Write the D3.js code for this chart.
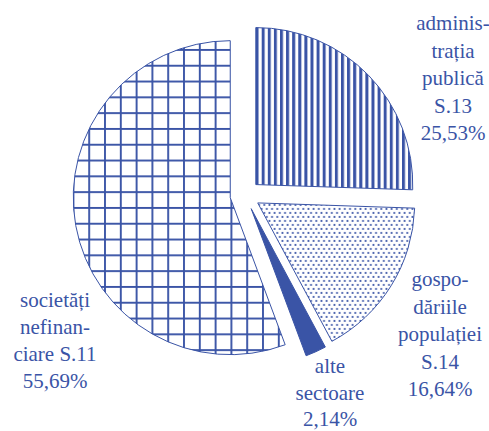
<!DOCTYPE html>
<html><head><meta charset="utf-8">
<script src="https://cdn.jsdelivr.net/npm/d3@7"></script>
<style>body{margin:0;background:#fff}svg{display:block}
text{font-family:"Liberation Serif","Times New Roman","DejaVu Serif",serif;}</style>
</head><body>
<svg id="c" width="489" height="431"></svg>
<script>
const categories = ["administrația publică S.13", "gospodăriile populației S.14", "alte sectoare", "societăți nefinanciare S.11"];
const values = [25.53, 16.64, 2.14, 55.69];
const labelLines = [
  ["adminis-", "trația", "publică", "S.13"],
  ["gospo-", "dăriile", "populației", "S.14"],
  ["alte", "sectoare"],
  ["societăți", "nefinan-", "ciare S.11"]
];
const fills = ["url(#stripes)", "url(#dots)", "#3a54a6", "url(#grid)"];

const blue = "#3a54a6";
const svg = d3.select("#c");
const defs = svg.append("defs");

// vertical stripes
const ps = defs.append("pattern").attr("id","stripes").attr("patternUnits","userSpaceOnUse")
  .attr("width",6.1).attr("height",10).attr("x",256);
ps.append("rect").attr("x",0).attr("y",0).attr("width",3).attr("height",10).attr("fill",blue);

// grid
const pg = defs.append("pattern").attr("id","grid").attr("patternUnits","userSpaceOnUse")
  .attr("width",15.8).attr("height",15.8).attr("x",79.2).attr("y",72.5);
pg.append("rect").attr("x",0).attr("y",0).attr("width",1.9).attr("height",15.8).attr("fill",blue);
pg.append("rect").attr("x",0).attr("y",0).attr("width",15.8).attr("height",1.9).attr("fill",blue);

// dots
const pd = defs.append("pattern").attr("id","dots").attr("patternUnits","userSpaceOnUse")
  .attr("width",5.2).attr("height",8);
pd.append("circle").attr("cx",1.3).attr("cy",2).attr("r",1.1).attr("fill",blue);
pd.append("circle").attr("cx",3.9).attr("cy",6).attr("r",1.1).attr("fill",blue);

const cx = 245, cy = 195, R = 157, explode = 15;
const pie = d3.pie().sort(null).value(d => d)(values);
const arc = d3.arc().innerRadius(0).outerRadius(R);

const g = svg.append("g").attr("transform", `translate(${cx},${cy})`);
g.selectAll("path").data(pie).join("path")
  .attr("d", arc)
  .attr("transform", d => {
    const a = (d.startAngle + d.endAngle) / 2;
    return `translate(${explode*Math.sin(a)},${-explode*Math.cos(a)})`;
  })
  .attr("fill", (d,i) => fills[i])
  .attr("stroke", blue).attr("stroke-width", 1);

// label layout (positions kept separate from data)
const labelLayout = [
  {x: 453, y: 30, dy: 27.5},
  {x: 440, y: 286, dy: 27.5},
  {x: 330, y: 373, dy: 26.5},
  {x: 55, y: 307, dy: 27}
];
const fmt = v => d3.format(".2f")(v).replace(".", ",") + "%";

values.forEach((v, i) => {
  const lines = labelLines[i].concat([fmt(v)]);
  const L = labelLayout[i];
  const t = svg.append("text")
    .attr("font-size", 21).attr("fill", blue).attr("text-anchor", "middle");
  lines.forEach((s, k) => {
    t.append("tspan").attr("x", L.x).attr("y", L.y + k*L.dy).text(s);
  });
});
</script>
</body></html>
